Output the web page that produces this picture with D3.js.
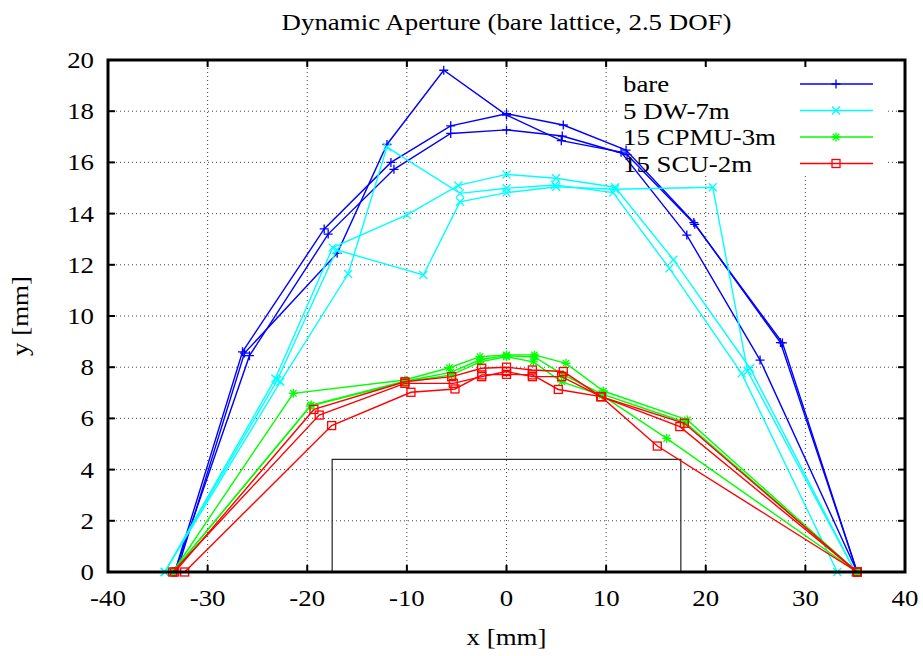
<!DOCTYPE html>
<html>
<head>
<meta charset="utf-8">
<script src="https://cdn.jsdelivr.net/npm/d3@7"></script>
<style>
  body { margin: 0; background: #fff; }
  text { font-family: 'Liberation Serif', 'Times New Roman', Times, serif; }
</style>
</head>
<body>
<svg id="chart" width="923" height="656"></svg>
<script>
// tick values
var xTicks = [-40, -30, -20, -10, 0, 10, 20, 30, 40];
var yTicks = [0, 2, 4, 6, 8, 10, 12, 14, 16, 18, 20];

// bare lattice, three runs
var bare1 = [[-33.3,0],[-26.5,8.6],[-18.3,13.4],[-11.6,16.0],[-5.6,17.43],[0,17.9],[5.7,17.46],[12.0,16.48],[18.8,13.65],[27.5,8.96],[35.2,0]];
var bare2 = [[-33.3,0],[-25.8,8.45],[-17.9,13.2],[-11.3,15.73],[-5.6,17.13],[0,17.27],[5.6,17.03],[12.1,16.3],[18.9,13.58],[27.7,8.95],[35.2,0]];
var bare3 = [[-33.1,0],[-26.3,8.55],[-17.0,12.45],[-12.0,16.7],[-6.3,19.6],[0,17.85],[5.5,16.85],[11.5,16.4],[18.1,13.16],[25.45,8.28],[35.2,0]];

// 5 DW-7m
var dw1 = [[-34.3,0],[-23.2,7.56],[-17.45,12.67],[-10.0,13.95],[-4.84,15.1],[0,15.53],[4.97,15.38],[10.9,15.03],[16.75,12.2],[24.45,7.96],[35.0,0]];
var dw2 = [[-34.3,0],[-22.7,7.43],[-15.9,11.64],[-12.0,16.6],[-4.67,14.79],[0,14.99],[4.87,15.12],[10.7,14.82],[16.35,11.86],[23.6,7.76],[33.2,0]];
var dw3 = [[-34.3,0],[-23.0,7.5],[-17.05,12.58],[-8.35,11.6],[-4.67,14.46],[0,14.82],[5.0,15.05],[10.9,14.95],[20.7,15.03],[24.2,7.85],[35.0,0]];

// 15 CPMU-3m
var cpmu1 = [[-33.5,0],[-21.4,6.98],[-10.2,7.5],[-5.74,7.98],[-2.66,8.41],[0,8.48],[2.8,8.48],[5.97,8.15],[9.72,7.07],[18.15,5.94],[35.2,0]];
var cpmu2 = [[-33.5,0],[-19.7,6.48],[-10.2,7.43],[-5.5,7.7],[-2.66,8.21],[0,8.41],[2.7,8.21],[5.54,7.43],[9.6,6.9],[16.08,5.22],[35.2,0]];
var cpmu3 = [[-33.5,0],[-19.6,6.52],[-10.1,7.46],[-5.6,7.8],[-2.6,8.3],[0,8.45],[2.8,8.4],[5.7,7.7],[9.6,6.95],[17.9,5.85],[35.2,0]];

// 15 SCU-2m
var scu1 = [[-33.3,0],[-19.33,6.35],[-10.2,7.43],[-5.5,7.63],[-2.49,7.96],[0,8.0],[2.6,7.89],[5.7,7.83],[9.49,6.85],[17.85,5.81],[35.2,0]];
var scu2 = [[-33.5,0],[-18.8,6.13],[-10.2,7.37],[-5.34,7.37],[-2.49,7.63],[0,7.83],[2.6,7.63],[5.54,7.63],[9.49,6.85],[17.4,5.68],[35.2,0]];
var scu3 = [[-32.3,0],[-17.55,5.72],[-9.59,7.02],[-5.17,7.15],[-2.49,7.7],[0,7.72],[2.6,7.7],[5.2,7.13],[9.49,6.85],[15.14,4.92],[35.2,0]];

// physical aperture box
var apertureX = [-17.5, 17.5];
var apertureY = [0, 4.4];

var seriesNames = ['bare', '5 DW-7m', '15 CPMU-3m', '15 SCU-2m'];
var seriesColors = ['#0000ff', '#00ffff', '#00ff00', '#ff0000'];
var seriesMarkers = ['plus', 'cross', 'star', 'square'];
var seriesRuns = [[bare1, bare2, bare3], [dw1, dw2, dw3], [cpmu1, cpmu2, cpmu3], [scu1, scu2, scu3]];

var fontSize = 24;
var stretch = 1.12; // gnuplot's Times looks a bit wide

var margin = { top: 60, right: 18, bottom: 84, left: 108 };
var width = 923 - margin.left - margin.right;
var height = 656 - margin.top - margin.bottom;

var svg = d3.select('#chart');
var g = svg.append('g')
  .attr('transform', 'translate(' + margin.left + ',' + margin.top + ')');

var x = d3.scaleLinear().domain([-40, 40]).range([0, width]);
var y = d3.scaleLinear().domain([0, 20]).range([height, 0]);

function addText(parent, tx, ty, str, anchor, rot) {
  return parent.append('text')
    .attr('transform', 'translate(' + tx + ',' + ty + ')' + (rot ? ' rotate(' + rot + ')' : '') + ' scale(' + stretch + ',1)')
    .attr('text-anchor', anchor || 'start')
    .attr('font-size', fontSize)
    .attr('fill', '#000')
    .text(str);
}

// grid (dotted)
g.append('g').selectAll('line')
  .data(xTicks.slice(1, -1))
  .enter().append('line')
  .attr('x1', d => x(d)).attr('x2', d => x(d))
  .attr('y1', 0).attr('y2', height)
  .attr('stroke', '#444').attr('stroke-width', 1).attr('stroke-dasharray', '1,3');

g.append('g').selectAll('line')
  .data(yTicks.slice(1, -1))
  .enter().append('line')
  .attr('x1', 0).attr('x2', width)
  .attr('y1', d => y(d)).attr('y2', d => y(d))
  .attr('stroke', '#444').attr('stroke-width', 1).attr('stroke-dasharray', '1,3');

// opaque key background covers the grid
g.append('rect')
  .attr('x', 512).attr('y', 2)
  .attr('width', 268).attr('height', 111)
  .attr('fill', '#fff');

// aperture rectangle
g.append('rect')
  .attr('x', x(apertureX[0])).attr('y', y(apertureY[1]))
  .attr('width', x(apertureX[1]) - x(apertureX[0]))
  .attr('height', y(apertureY[0]) - y(apertureY[1]))
  .attr('fill', 'none').attr('stroke', '#222').attr('stroke-width', 1.2);

function drawMarker(sel, type, color) {
  var s = 4.5;
  if (type === 'plus' || type === 'star') {
    sel.append('path').attr('d', 'M' + (-s) + ',0H' + s + 'M0,' + (-s) + 'V' + s);
  }
  if (type === 'cross' || type === 'star') {
    var c = type === 'star' ? 3.3 : 4;
    sel.append('path').attr('d', 'M' + (-c) + ',' + (-c) + 'L' + c + ',' + c + 'M' + (-c) + ',' + c + 'L' + c + ',' + (-c));
  }
  if (type === 'square') {
    sel.append('rect').attr('x', -4).attr('y', -4).attr('width', 8).attr('height', 8);
  }
  sel.selectAll('path, rect')
    .attr('fill', 'none').attr('stroke', color).attr('stroke-width', 1.3);
}

var line = d3.line().x(d => x(d[0])).y(d => y(d[1]));

seriesRuns.forEach(function (runs, i) {
  var color = seriesColors[i];
  runs.forEach(function (pts) {
    // each run closes back along y = 0
    g.append('path')
      .attr('d', line(pts.concat([pts[0]])))
      .attr('fill', 'none')
      .attr('stroke', color)
      .attr('stroke-width', 1.4);

    g.append('g').selectAll('g')
      .data(pts)
      .enter().append('g')
      .attr('transform', d => 'translate(' + x(d[0]) + ',' + y(d[1]) + ')')
      .each(function () { drawMarker(d3.select(this), seriesMarkers[i], color); });
  });
});

// key
seriesNames.forEach(function (name, i) {
  var ky = 24 + i * 26.5;
  addText(g, 515, ky + 8, name);
  g.append('line')
    .attr('x1', 692).attr('x2', 765)
    .attr('y1', ky).attr('y2', ky)
    .attr('stroke', seriesColors[i]).attr('stroke-width', 1.4);
  var m = g.append('g').attr('transform', 'translate(728,' + ky + ')');
  drawMarker(m, seriesMarkers[i], seriesColors[i]);
});

// ticks on all four sides, pointing inwards
var tickLen = 7;
var ticks = g.append('g').attr('stroke', '#000').attr('stroke-width', 2);
xTicks.forEach(function (t) {
  ticks.append('line').attr('x1', x(t)).attr('x2', x(t)).attr('y1', height).attr('y2', height - tickLen);
  ticks.append('line').attr('x1', x(t)).attr('x2', x(t)).attr('y1', 0).attr('y2', tickLen);
});
yTicks.forEach(function (t) {
  ticks.append('line').attr('x1', 0).attr('x2', tickLen).attr('y1', y(t)).attr('y2', y(t));
  ticks.append('line').attr('x1', width).attr('x2', width - tickLen).attr('y1', y(t)).attr('y2', y(t));
});

// border
g.append('rect')
  .attr('x', 0).attr('y', 0).attr('width', width).attr('height', height)
  .attr('fill', 'none').attr('stroke', '#000').attr('stroke-width', 3);

// tick labels
xTicks.forEach(function (t) {
  addText(g, x(t), height + 34, t, 'middle');
});
yTicks.forEach(function (t) {
  addText(g, -14, y(t) + 8, t, 'end');
});

// axis labels and title
addText(svg, margin.left + width / 2, 645, 'x [mm]', 'middle');
addText(svg, 28, margin.top + height / 2, 'y [mm]', 'middle', -90);
addText(svg, margin.left + width / 2, 30, 'Dynamic Aperture (bare lattice, 2.5 DOF)', 'middle');
</script>
</body>
</html>
